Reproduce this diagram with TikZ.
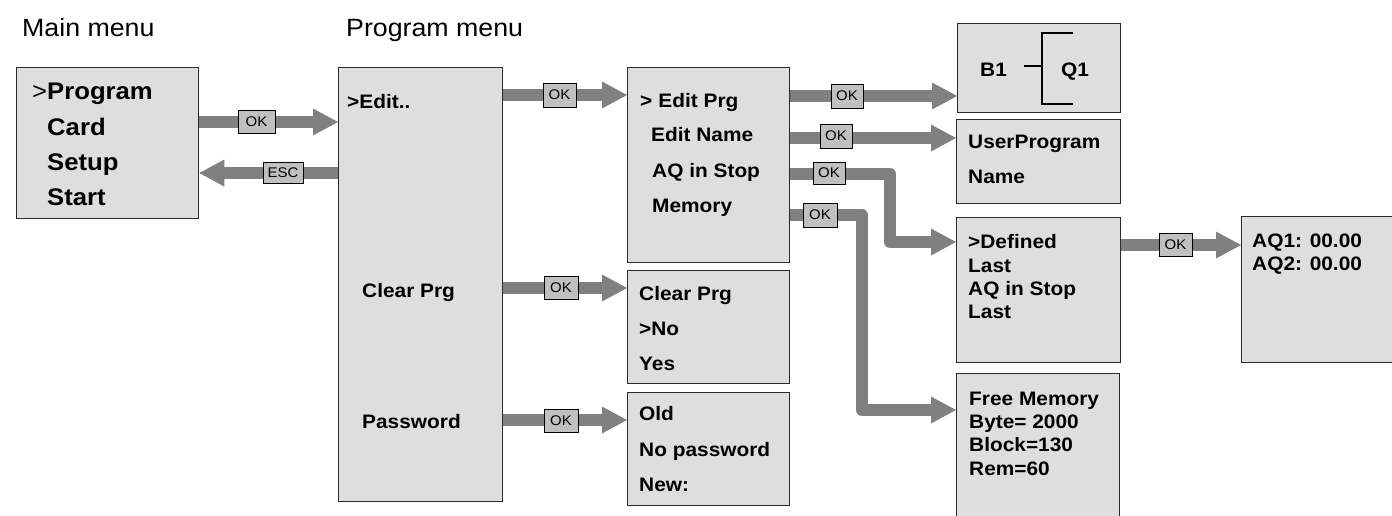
\documentclass[tikz,border=0pt]{standalone}
\usepackage{fontspec}
\setmainfont[FakeStretch=1.07]{Liberation Sans}
\usetikzlibrary{arrows.meta}
\definecolor{scrfill}{HTML}{DEDEDE}
\definecolor{scrline}{HTML}{2A2A2A}
\definecolor{arrgray}{HTML}{808080}
\definecolor{lblfill}{HTML}{C0C0C0}
\begin{document}
\begin{tikzpicture}[x=1pt,y=-1pt,
  screen/.style={draw=scrline,line width=1.3pt,fill=scrfill,inner sep=0pt,anchor=north west},
  menutext/.style={anchor=base west,inner sep=0pt,font=\fontsize{19.5}{20}\selectfont\bfseries},
  bigtext/.style={anchor=base west,inner sep=0pt,font=\fontsize{24}{24}\selectfont\bfseries},
  headtext/.style={anchor=base west,inner sep=0pt,font=\fontsize{25}{25}\selectfont},
  keylabel/.style={draw=black,line width=0.9pt,fill=lblfill,inner sep=0pt,font=\fontsize{14}{14}\selectfont},
  flow/.style={draw=arrgray,line width=12pt,line join=round,-{Triangle[length=25pt,width=27pt,line width=0pt]}},
  bracketline/.style={draw=black,line width=2pt}
]
\useasboundingbox (0,0) rectangle (1392,515);
\clip (0,0) rectangle (1392,515);

% headers
\node[headtext] (hmain) at (22,36) {Main menu};
\node[headtext] (hprog) at (346,36) {Program menu};

% screens
\node[screen,minimum width=182pt,minimum height=151pt] (main) at (16,67) {};
\node[screen,minimum width=164pt,minimum height=434pt] (prog) at (338,67) {};
\node[screen,minimum width=162pt,minimum height=195pt] (edit) at (627,67) {};
\node[screen,minimum width=162pt,minimum height=113pt] (clear) at (627,270) {};
\node[screen,minimum width=162pt,minimum height=113pt] (pass) at (627,392) {};
\node[screen,minimum width=163pt,minimum height=89pt] (b1box) at (957,23) {};
\node[screen,minimum width=164pt,minimum height=84pt] (user) at (956,119) {};
\node[screen,minimum width=164pt,minimum height=145pt] (def) at (956,217) {};
\node[screen,minimum width=163pt,minimum height=170pt] (free) at (956,373) {};
\node[screen,minimum width=170pt,minimum height=146pt] (aq) at (1241,216) {};

% main menu text
\node[bigtext] (mProg) at (32,99) {{\mdseries >}Program};
\node[bigtext] (mCard) at (47,135) {Card};
\node[bigtext] (mSetup) at (47,170) {Setup};
\node[bigtext] (mStart) at (47,205) {Start};

% program menu text
\node[menutext] (pEdit) at (347,108) {>Edit..};
\node[menutext] (pClear) at (362,297) {Clear Prg};
\node[menutext] (pPass) at (362,428) {Password};

% edit menu text
\node[menutext] (eEdit) at (640,107.5) {>\hspace{6pt}Edit Prg};
\node[menutext] (eName) at (651,141.5) {Edit Name};
\node[menutext] (eAQ) at (652,177) {AQ in Stop};
\node[menutext] (eMem) at (652,212.5) {Memory};

% clear prg text
\node[menutext] (cTitle) at (639,300) {Clear Prg};
\node[menutext] (cNo) at (639,335) {>No};
\node[menutext] (cYes) at (639,370) {Yes};

% password text
\node[menutext] (wOld) at (639,420) {Old};
\node[menutext] (wNo) at (639,456) {No password};
\node[menutext] (wNew) at (639,491) {New:};

% B1 Q1
\node[menutext] (tB1) at (980,76) {B1};
\node[menutext] (tQ1) at (1061,76) {Q1};
\draw[bracketline] (1073,33) -- (1042,33) -- (1042,104) -- (1073,104);
\draw[bracketline] (1024,66) -- (1042,66);

% user program
\node[menutext] (uUser) at (968,148.5) {UserProgram};
\node[menutext] (uName) at (968,183.5) {Name};

% defined
\node[menutext] (dDef) at (968,248.5) {>Defined};
\node[menutext] (dLast) at (968,272) {Last};
\node[menutext] (dAQ) at (968,295.3) {AQ in Stop};
\node[menutext] (dLast2) at (968,318.5) {Last};

% free memory
\node[menutext] (fFree) at (969,405) {Free Memory};
\node[menutext] (fByte) at (969,428.3) {Byte= 2000};
\node[menutext] (fBlock) at (969,451.7) {Block=130};
\node[menutext] (fRem) at (969,475) {Rem=60};

% AQ values
\node[menutext] (aAQ1) at (1252,247) {AQ1: 00.00};
\node[menutext] (aAQ2) at (1252,270) {AQ2: 00.00};

% connectors
\draw[flow] (main.east |- 0,122) -- (prog.west |- 0,122);
\draw[flow] (prog.west |- 0,173) -- (main.east |- 0,173);
\draw[flow] (prog.east |- 0,95) -- (edit.west |- 0,95);
\draw[flow] (prog.east |- 0,288) -- (clear.west |- 0,288);
\draw[flow] (prog.east |- 0,420) -- (pass.west |- 0,420);
\draw[flow] (edit.east |- 0,96) -- (b1box.west |- 0,96);
\draw[flow] (edit.east |- 0,138) -- (user.west |- 0,138);
\draw[flow] (edit.east |- 0,174) -- (890,174) -- (890,242) -- (def.west |- 0,242);
\draw[flow] (edit.east |- 0,215) -- (862,215) -- (862,410) -- (free.west |- 0,410);
\draw[flow] (def.east |- 0,245) -- (aq.west |- 0,245);

% key labels
\node[keylabel,minimum width=37pt,minimum height=23pt] (kMain) at (256.5,121.5) {OK};
\node[keylabel,minimum width=40pt,minimum height=21pt] (kEsc) at (283,172.5) {ESC};
\node[keylabel,minimum width=33pt,minimum height=24pt] (kEdit) at (559.5,95) {OK};
\node[keylabel,minimum width=34pt,minimum height=23pt] (kClear) at (561,287.5) {OK};
\node[keylabel,minimum width=34pt,minimum height=23pt] (kPass) at (561,420.5) {OK};
\node[keylabel,minimum width=32pt,minimum height=24pt] (kPrg) at (847,96) {OK};
\node[keylabel,minimum width=32pt,minimum height=24pt] (kName) at (836,136) {OK};
\node[keylabel,minimum width=32pt,minimum height=22pt] (kAQ) at (829,173) {OK};
\node[keylabel,minimum width=34pt,minimum height=24pt] (kMem) at (820,215) {OK};
\node[keylabel,minimum width=33pt,minimum height=23pt] (kDef) at (1175.5,244.5) {OK};
\end{tikzpicture}
\end{document}
